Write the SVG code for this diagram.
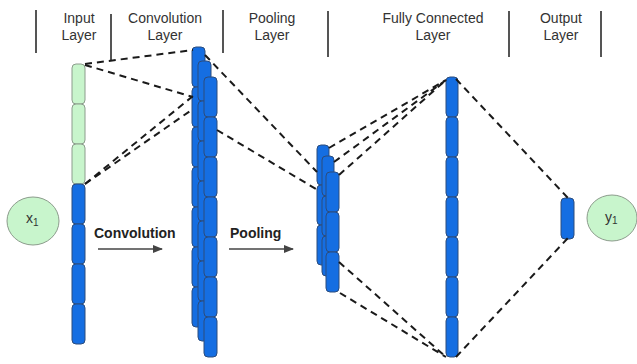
<svg xmlns="http://www.w3.org/2000/svg" xmlns:xlink="http://www.w3.org/1999/xlink" width="637" height="364" viewBox="0 0 637 364">
  <style>
    .hdr { font-family: "Liberation Sans", Arial, sans-serif; font-size: 14px; fill: #333; text-anchor: middle; }
    .sep { stroke: #555; stroke-width: 2; }
    .blue { fill: #156ee2; stroke: #2c4c7c; stroke-width: 1; }
    .green { fill: #c8f5cc; stroke: #8c9c8c; stroke-width: 1; }
    .dash { stroke: #1a1a1a; stroke-width: 2; stroke-dasharray: 7 5; fill: none; }
    .op { font-family: "Liberation Sans", Arial, sans-serif; font-size: 14px; font-weight: bold; fill: #222; }
    .arrow { stroke: #444; stroke-width: 1.5; }
    .var { font-family: "Liberation Sans", Arial, sans-serif; font-size: 14px; fill: #333; }
  </style>
  <defs>
    <rect id="bc" width="13" height="40" rx="4" class="blue"/>
    <rect id="bcs" width="12" height="40" rx="4" class="blue"/>
    <rect id="gc" width="13" height="40" rx="4" class="green"/>
    <marker id="head" markerWidth="10" markerHeight="8" refX="9" refY="4" orient="auto" markerUnits="userSpaceOnUse">
      <path d="M0,0 L10,4 L0,8 z" fill="#444"/>
    </marker>
  </defs>

  <!-- header: layer titles and separators -->
  <g id="header">
    <line class="sep" x1="36" y1="10" x2="36" y2="53"/>
    <line class="sep" x1="111" y1="14" x2="111" y2="60"/>
    <line class="sep" x1="223" y1="10" x2="223" y2="53"/>
    <line class="sep" x1="328" y1="11" x2="328" y2="57"/>
    <line class="sep" x1="509" y1="11" x2="509" y2="57"/>
    <line class="sep" x1="601" y1="11" x2="601" y2="57"/>
    <text class="hdr" x="79" y="23">Input</text>
    <text class="hdr" x="79" y="40">Layer</text>
    <text class="hdr" x="165" y="23">Convolution</text>
    <text class="hdr" x="165" y="40">Layer</text>
    <text class="hdr" x="272" y="23">Pooling</text>
    <text class="hdr" x="272" y="40">Layer</text>
    <text class="hdr" x="433" y="23">Fully Connected</text>
    <text class="hdr" x="433" y="40">Layer</text>
    <text class="hdr" x="561" y="23">Output</text>
    <text class="hdr" x="561" y="40">Layer</text>
  </g>

  <!-- input value x1 -->
  <g id="x1">
    <ellipse cx="33" cy="221" rx="26" ry="24" class="green"/>
    <text class="var" x="26" y="223">x<tspan font-size="10" dy="3">1</tspan></text>
  </g>

  <!-- input layer: window of three cells highlighted -->
  <g id="input-layer">
    <use href="#gc" x="72" y="64"/>
    <use href="#gc" x="72" y="104"/>
    <use href="#gc" x="72" y="144"/>
    <use href="#bc" x="72" y="184"/>
    <use href="#bc" x="72" y="224"/>
    <use href="#bc" x="72" y="264"/>
    <use href="#bc" x="72" y="304"/>
  </g>

  <!-- convolution layer: three stacked feature maps -->
  <g id="conv-layer">
    <g id="conv-map-1">
      <use href="#bc" x="192" y="47"/><use href="#bc" x="192" y="87"/><use href="#bc" x="192" y="127"/>
      <use href="#bc" x="192" y="167"/><use href="#bc" x="192" y="207"/><use href="#bc" x="192" y="247"/>
      <use href="#bc" x="192" y="287"/>
    </g>
    <g id="conv-map-2">
      <use href="#bc" x="198" y="61"/><use href="#bc" x="198" y="101"/><use href="#bc" x="198" y="141"/>
      <use href="#bc" x="198" y="181"/><use href="#bc" x="198" y="221"/><use href="#bc" x="198" y="261"/>
      <use href="#bc" x="198" y="301"/>
    </g>
    <g id="conv-map-3">
      <use href="#bc" x="204" y="77"/><use href="#bc" x="204" y="117"/><use href="#bc" x="204" y="157"/>
      <use href="#bc" x="204" y="197"/><use href="#bc" x="204" y="237"/><use href="#bc" x="204" y="277"/>
      <use href="#bc" x="204" y="317"/>
    </g>
  </g>

  <!-- pooling layer: three stacked pooled maps -->
  <g id="pool-layer">
    <g id="pool-map-1">
      <use href="#bcs" x="317" y="145"/><use href="#bcs" x="317" y="185"/><use href="#bcs" x="317" y="225"/>
    </g>
    <g id="pool-map-2">
      <use href="#bcs" x="322" y="156"/><use href="#bcs" x="322" y="196"/><use href="#bcs" x="322" y="236"/>
    </g>
    <g id="pool-map-3">
      <use href="#bc" x="326" y="172"/><use href="#bc" x="326" y="212"/><use href="#bc" x="326" y="252"/>
    </g>
  </g>

  <!-- fully connected layer -->
  <g id="fc-layer">
    <use href="#bcs" x="446" y="77"/><use href="#bcs" x="446" y="117"/><use href="#bcs" x="446" y="157"/>
    <use href="#bcs" x="446" y="197"/><use href="#bcs" x="446" y="237"/><use href="#bcs" x="446" y="277"/>
    <use href="#bcs" x="446" y="317"/>
  </g>

  <!-- output layer -->
  <g id="output-layer">
    <rect x="561" y="198" width="13" height="41" rx="4" class="blue"/>
  </g>

  <!-- output value y1 -->
  <g id="y1">
    <ellipse cx="612" cy="218" rx="25" ry="23" class="green"/>
    <text class="var" x="605" y="222">y<tspan font-size="10" dy="2">1</tspan></text>
  </g>

  <!-- operation labels -->
  <g id="op-convolution">
    <text class="op" x="94" y="238">Convolution</text>
    <line class="arrow" x1="98" y1="249" x2="162" y2="249" marker-end="url(#head)"/>
  </g>
  <g id="op-pooling">
    <text class="op" x="230" y="238">Pooling</text>
    <line class="arrow" x1="229" y1="249" x2="293" y2="249" marker-end="url(#head)"/>
  </g>

  <!-- receptive-field connectors -->
  <g id="connectors">
    <line class="dash" x1="85" y1="64" x2="193" y2="50"/>
    <line class="dash" x1="85" y1="65" x2="193" y2="97"/>
    <line class="dash" x1="85" y1="184" x2="193" y2="96"/>
    <line class="dash" x1="85" y1="184" x2="193" y2="109"/>
    <line class="dash" x1="205" y1="55" x2="317" y2="172"/>
    <line class="dash" x1="217" y1="130" x2="316" y2="189"/>
    <line class="dash" x1="329" y1="148" x2="446" y2="80"/>
    <line class="dash" x1="334" y1="162" x2="446" y2="80"/>
    <line class="dash" x1="339" y1="175" x2="446" y2="80"/>
    <line class="dash" x1="339" y1="262" x2="446" y2="357"/>
    <line class="dash" x1="340" y1="293" x2="446" y2="357"/>
    <line class="dash" x1="456" y1="79" x2="568" y2="198"/>
    <line class="dash" x1="456" y1="357" x2="568" y2="238"/>
  </g>
</svg>
